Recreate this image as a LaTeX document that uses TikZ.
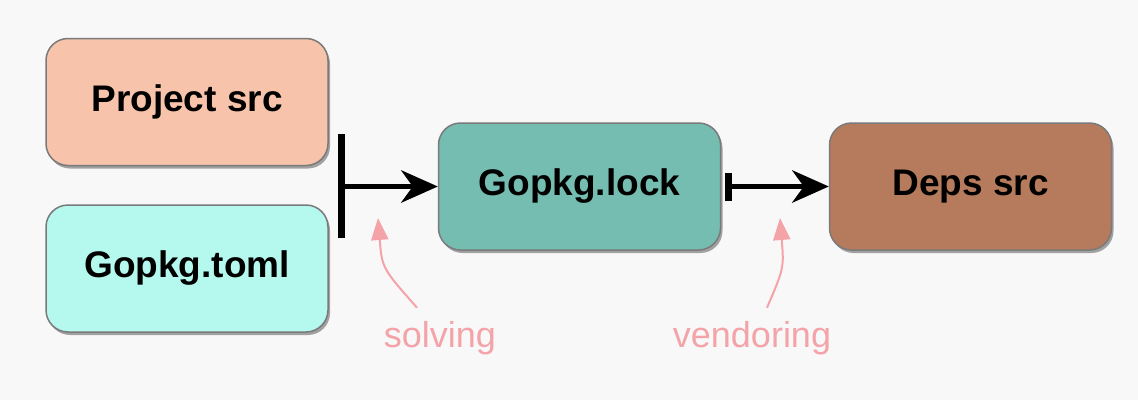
\documentclass[tikz,border=0pt]{standalone}
\usepackage{fontspec}
\setmainfont{Liberation Sans}
\usetikzlibrary{arrows.meta}
\usetikzlibrary{shadows}
\definecolor{fond}{HTML}{F8F8F8}
\definecolor{cadre}{HTML}{7A7A7A}
\definecolor{saumon}{HTML}{F7C4AB}
\definecolor{menthe}{HTML}{B4F8EE}
\definecolor{sarcelle}{HTML}{74BDB0}
\definecolor{brique}{HTML}{B67A5C}
\definecolor{rose}{HTML}{F4A3A9}

\begin{document}
\begin{tikzpicture}[x=1pt,y=-1pt]
	\tikzstyle{boite}=[rectangle,rounded corners=22pt,draw=cadre,line width=1.5pt,minimum width=282pt,minimum height=127pt,font=\fontsize{37}{40}\selectfont\bfseries,drop shadow={shadow xshift=2pt,shadow yshift=-3pt,opacity=0.35,fill=black}]
	\tikzstyle{fleche}=[line width=5.5pt,-{Stealth[length=37pt,width=33pt,inset=12pt,line width=0pt]}]
	\tikzstyle{note}=[text=rose,inner sep=0pt,anchor=base,font=\fontsize{36}{40}\selectfont]
	\tikzstyle{renvoi}=[draw=rose,line width=2pt,-{Triangle[length=22pt,width=17pt]}]
	\fill[fond] (0,0) rectangle (1138,400);
	\useasboundingbox (0,0) rectangle (1138,400);
	\node[boite,fill=saumon] (src) at (187,102){Project src};
	\node[boite,fill=menthe] (toml) at (187,268.5){Gopkg.toml};
	\node[boite,fill=sarcelle] (lock) at (579.5,186.5){Gopkg.lock};
	\node[boite,fill=brique] (deps) at (970.5,186.5){Deps src};
	\coordinate (joint) at (341,186.5);
	\draw[line width=7pt] (341,134) -- (341,238);
	\draw[fleche] (joint) -- (lock);
	\draw[fleche,{Bar[width=28pt,line width=7pt]}-{Stealth[length=37pt,width=33pt,inset=12pt,line width=0pt]}] ([xshift=4pt]lock.east) -- (deps);
	\node[note] (solve) at (440,347){solving};
	\node[note] (vend) at (752,347){vendoring};
	\draw[renvoi] ([xshift=-23pt,yshift=13pt]solve.north) .. controls (382,268) .. (378,218);
	\draw[renvoi] ([xshift=15pt,yshift=13pt]vend.north) .. controls (784,268) .. (780,218);
\end{tikzpicture}
\end{document}
